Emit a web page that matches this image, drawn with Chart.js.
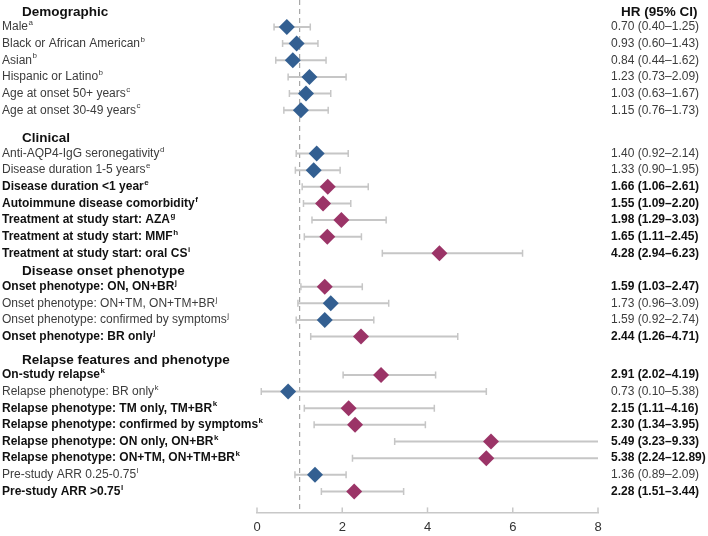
<!DOCTYPE html>
<html>
<head>
<meta charset="utf-8">
<script src="https://cdn.jsdelivr.net/npm/chart.js@4"></script>
<style>
  html, body { margin: 0; padding: 0; background: #fff; }
  #wrap { width: 708px; height: 536px; position: relative; }
</style>
</head>
<body>
<div id="wrap"><canvas id="forest"></canvas></div>
<script>
// --- data ---
const groupNames = ['Demographic', 'Clinical', 'Disease onset phenotype', 'Relapse features and phenotype'];
const groupSizes = [6, 7, 4, 8];

const labels = [
    'Male', 'Black or African American', 'Asian', 'Hispanic or Latino', 'Age at onset 50+ years', 'Age at onset 30-49 years',
    'Anti-AQP4-IgG seronegativity', 'Disease duration 1-5 years', 'Disease duration <1 year', 'Autoimmune disease comorbidity',
    'Treatment at study start: AZA', 'Treatment at study start: MMF', 'Treatment at study start: oral CS',
    'Onset phenotype: ON, ON+BR', 'Onset phenotype: ON+TM, ON+TM+BR', 'Onset phenotype: confirmed by symptoms', 'Onset phenotype: BR only',
    'On-study relapse', 'Relapse phenotype: BR only', 'Relapse phenotype: TM only, TM+BR', 'Relapse phenotype: confirmed by symptoms',
    'Relapse phenotype: ON only, ON+BR', 'Relapse phenotype: ON+TM, ON+TM+BR', 'Pre-study ARR 0.25-0.75', 'Pre-study ARR >0.75'
];
const footnotes = ['a', 'b', 'b', 'b', 'c', 'c', 'd', 'e', 'e', 'f', 'g', 'h', 'i', 'j', 'j', 'j', 'j', 'k', 'k', 'k', 'k', 'k', 'k', 'l', 'l'];

// plotted values (as drawn in the figure)
const hr = [0.70, 0.93, 0.84, 1.23, 1.15, 1.03, 1.40, 1.33, 1.66, 1.55, 1.98, 1.65, 4.28, 1.59, 1.73, 1.59, 2.44, 2.91, 0.73, 2.15, 2.30, 5.49, 5.38, 1.36, 2.28];
const lo = [0.40, 0.60, 0.44, 0.73, 0.76, 0.63, 0.92, 0.90, 1.06, 1.09, 1.29, 1.11, 2.94, 1.03, 0.96, 0.92, 1.26, 2.02, 0.10, 1.11, 1.34, 3.23, 2.24, 0.89, 1.51];
const hi = [1.25, 1.43, 1.62, 2.09, 1.73, 1.67, 2.14, 1.95, 2.61, 2.20, 3.03, 2.45, 6.23, 2.47, 3.09, 2.74, 4.71, 4.19, 5.38, 4.16, 3.95, 9.33, 12.89, 2.09, 3.44];

// text column as printed
const ciText = [
    '0.70 (0.40–1.25)', '0.93 (0.60–1.43)', '0.84 (0.44–1.62)', '1.23 (0.73–2.09)', '1.03 (0.63–1.67)', '1.15 (0.76–1.73)',
    '1.40 (0.92–2.14)', '1.33 (0.90–1.95)', '1.66 (1.06–2.61)', '1.55 (1.09–2.20)', '1.98 (1.29–3.03)', '1.65 (1.11–2.45)', '4.28 (2.94–6.23)',
    '1.59 (1.03–2.47)', '1.73 (0.96–3.09)', '1.59 (0.92–2.74)', '2.44 (1.26–4.71)',
    '2.91 (2.02–4.19)', '0.73 (0.10–5.38)', '2.15 (1.11–4.16)', '2.30 (1.34–3.95)', '5.49 (3.23–9.33)', '5.38 (2.24–12.89)', '1.36 (0.89–2.09)', '2.28 (1.51–3.44)'
];
const xTicks = [0, 2, 4, 6, 8];

// --- layout ---
const FONT = '"Liberation Sans", Arial, sans-serif';
const BLUE = '#335f91';
const MAGENTA = '#9b3467';
const CI_GREY = '#c6c6c6';
const groupStart = [0, 7.6, 15.6, 20.9];
const Y_MIN = -1.62, Y_MAX = 29.16;

const slots = [];
groupSizes.forEach((n, g) => {
    for (let k = 0; k < n; k++) slots.push(groupStart[g] + k);
});
const isSig = lo.map(v => v > 1);

const forestText = {
    id: 'forestText',
    afterDraw(chart) {
        const { ctx, scales: { x, y } } = chart;
        ctx.save();
        ctx.textBaseline = 'middle';
        ctx.textAlign = 'left';

        // group headings + column header
        ctx.font = 'bold 13.5px ' + FONT;
        ctx.fillStyle = '#111';
        groupNames.forEach((name, g) => {
            ctx.fillText(name, 22, y.getPixelForValue(groupStart[g] - 0.9));
        });
        ctx.fillText('HR (95% CI)', 621, y.getPixelForValue(-0.9));

        // row labels, footnote marks and HR text
        labels.forEach((lab, i) => {
            const py = y.getPixelForValue(slots[i]);
            const weight = isSig[i] ? 'bold ' : '';
            ctx.fillStyle = isSig[i] ? '#111' : '#3c3c3c';
            ctx.font = weight + '12px ' + FONT;
            ctx.fillText(lab, 2, py);
            const w = ctx.measureText(lab).width;
            ctx.font = weight + '8px ' + FONT;
            ctx.fillText(footnotes[i], 2 + w + 0.5, py - 4);
            ctx.font = weight + '12px ' + FONT;
            ctx.fillText(ciText[i], 611, py);
        });

        // small upward tick marks on the x axis
        ctx.strokeStyle = '#c8c8c8';
        ctx.lineWidth = 1.5;
        const base = chart.chartArea.bottom;
        xTicks.forEach(t => {
            const px = x.getPixelForValue(t);
            ctx.beginPath();
            ctx.moveTo(px, base);
            ctx.lineTo(px, base - 5);
            ctx.stroke();
        });
        ctx.restore();
    }
};

const ctx = document.getElementById('forest').getContext('2d');
new Chart(ctx, {
    type: 'scatter',
    data: {
        datasets: [
            {
                label: 'HR',
                data: hr.map((v, i) => ({ x: v, y: slots[i] })),
                pointStyle: 'rectRot',
                pointRadius: 8,
                pointHoverRadius: 8,
                pointBackgroundColor: isSig.map(s => s ? MAGENTA : BLUE),
                pointBorderWidth: 0,
                showLine: false
            },
            {
                label: 'caps',
                data: lo.flatMap((v, i) => [{ x: v, y: slots[i] }, { x: hi[i], y: slots[i] }]),
                pointStyle: 'line',
                rotation: 90,
                pointRadius: 3.5,
                pointBorderColor: CI_GREY,
                pointBorderWidth: 1.5,
                showLine: false
            },
            {
                label: 'CI',
                data: lo.flatMap((v, i) => [{ x: v, y: slots[i] }, { x: hi[i], y: slots[i] }, { x: null, y: null }]),
                showLine: true,
                spanGaps: false,
                borderColor: CI_GREY,
                borderWidth: 2,
                pointRadius: 0
            },
            {
                label: 'ref',
                data: [{ x: 1, y: Y_MIN }, { x: 1, y: Y_MAX }],
                showLine: true,
                borderColor: '#a8a8a8',
                borderWidth: 1.2,
                borderDash: [5, 4],
                pointRadius: 0
            }
        ]
    },
    options: {
        responsive: true,
        maintainAspectRatio: false,
        animation: false,
        layout: { autoPadding: false, padding: { left: 257, right: 110, top: 0, bottom: -6 } },
        scales: {
            x: {
                type: 'linear',
                min: 0,
                max: 8,
                afterBuildTicks: axis => { axis.ticks = xTicks.map(v => ({ value: v })); },
                grid: { display: false, drawTicks: false },
                border: { display: true, color: '#c8c8c8', width: 1.5 },
                ticks: { padding: 7, color: '#333', font: { family: FONT, size: 13 } }
            },
            y: {
                type: 'linear',
                display: false,
                reverse: true,
                min: Y_MIN,
                max: Y_MAX
            }
        },
        plugins: { legend: { display: false }, tooltip: { enabled: false } }
    },
    plugins: [forestText]
});
</script>
</body>
</html>
